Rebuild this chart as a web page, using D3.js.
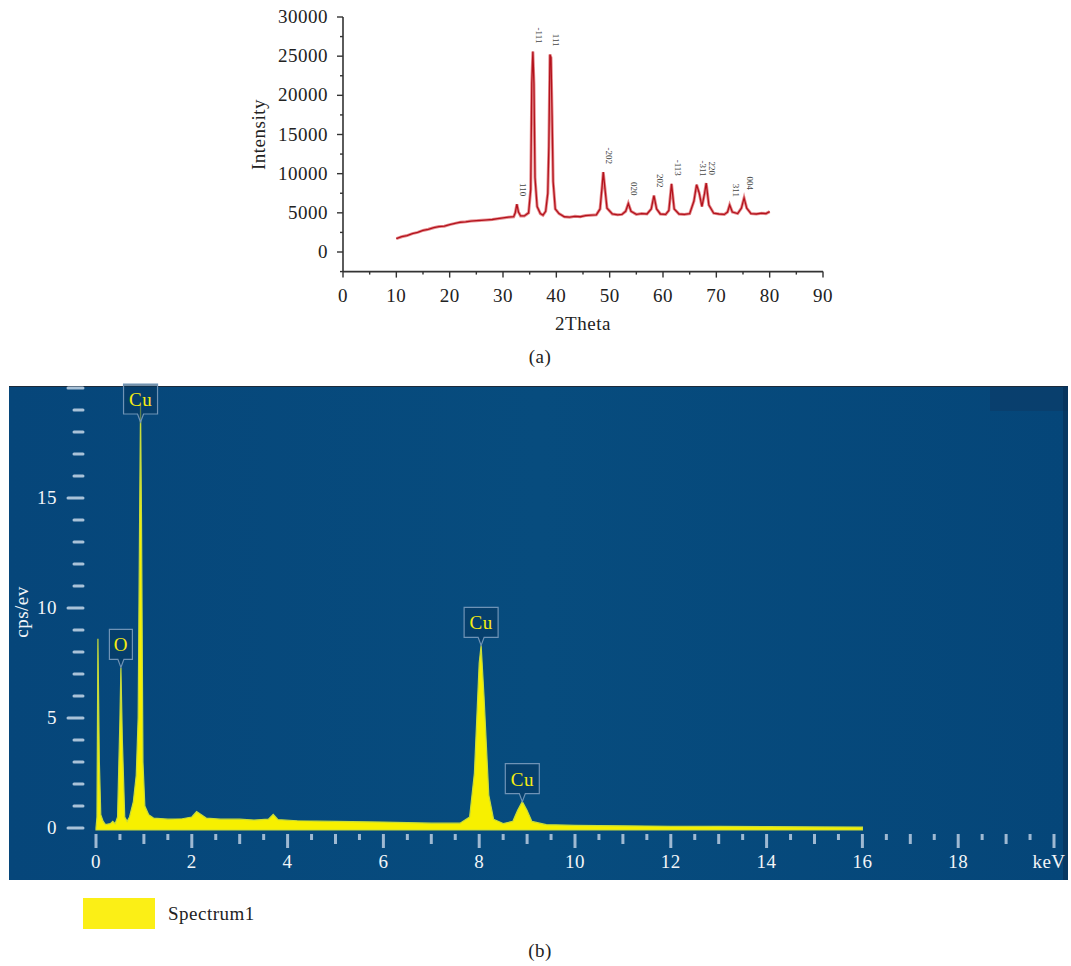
<!DOCTYPE html>
<html>
<head>
<meta charset="utf-8">
<script src="https://cdn.jsdelivr.net/npm/d3@7"></script>
<style>
  body { margin: 0; background: #fff; }
  text { font-family: "Liberation Serif", "DejaVu Serif", serif; letter-spacing: 0.5px; }
</style>
</head>
<body>
<div id="chart"></div>
<script>
// ---- (a) XRD pattern ----
const xrdTheta = [10, 11, 12, 13, 14, 15, 16, 17, 18, 19, 20, 21, 22, 23, 24, 25, 26, 27, 28, 29, 30, 31, 32,
  32.3, 32.6, 32.9, 33.3, 34, 34.8, 35.2, 35.4, 35.6, 35.8, 36.0, 36.4, 37, 37.5, 38.0, 38.4, 38.6, 38.8, 39.0,
  39.2, 39.4, 39.8, 40.5, 41.5, 42.5, 43.5, 44.5, 45.5, 46.5, 47.5, 48.2, 48.6, 48.8, 49.1, 49.5, 50.5, 51.5,
  52.3, 53, 53.5, 54, 55, 56, 57, 57.8, 58.3, 58.8, 59.5, 60.5, 61.1, 61.6, 62.1, 63, 64, 65, 65.8, 66.3, 66.8,
  67.3, 67.8, 68.1, 68.6, 69.5, 70.5, 71.5, 72.1, 72.5, 73, 74, 74.7, 75.2, 75.7, 76.5, 77.5, 78.5, 79.3, 80];
const xrdIntensity = [1700, 1950, 2100, 2350, 2500, 2750, 2900, 3100, 3250, 3300, 3500, 3650, 3800, 3850, 3950, 4000, 4050, 4100, 4150, 4250, 4350, 4450, 4500,
  5000, 6100, 5100, 4600, 4600, 5000, 8000, 21500, 25600, 21500, 9500, 5800, 4900, 4700, 5200, 7500, 13500, 25200, 24800,
  17500, 9000, 5500, 4900, 4500, 4450, 4550, 4500, 4650, 4700, 4750, 5500, 8500, 10200, 8200, 5600, 4850, 4750,
  4800, 5200, 6200, 5200, 4800, 4900, 4850, 5500, 7200, 5500, 4850, 4800, 5300, 8700, 5500, 4850, 4800, 4900, 6500, 8600, 7500,
  5800, 7500, 8800, 6000, 4950, 4850, 4800, 5100, 6000, 5100, 4900, 5600, 6900, 5600, 4900, 4850, 4950, 4900, 5150];
const xrdPeakTheta = [32.6, 35.6, 38.8, 48.8, 53.5, 58.3, 61.6, 66.3, 68.1, 72.5, 75.2];
const xrdPeakHeight = [6100, 25600, 25200, 10200, 6200, 7200, 8700, 8600, 8800, 6000, 6900];
const xrdPeakLabel = ["110", "-111", "111", "-202", "020", "202", "-113", "-311", "220", "311", "004"];
const xrdXTicks = [0, 10, 20, 30, 40, 50, 60, 70, 80, 90];
const xrdYTicks = [0, 5000, 10000, 15000, 20000, 25000, 30000];

// ---- (b) EDS spectrum ----
const edsEnergy = [0, 0.02, 0.04, 0.07, 0.1, 0.15, 0.2, 0.3, 0.35, 0.4, 0.45, 0.5, 0.52, 0.55, 0.6, 0.65, 0.7, 0.78,
  0.84, 0.88, 0.91, 0.93, 0.95, 0.98, 1.02, 1.1, 1.2, 1.5, 1.8, 2.0, 2.1, 2.2, 2.3, 2.6, 3.0, 3.3, 3.6, 3.7, 3.8,
  4.2, 5, 6, 7, 7.6, 7.8, 7.9, 8.0, 8.04, 8.1, 8.2, 8.3, 8.5, 8.7, 8.8, 8.9, 9.0, 9.1, 9.4, 10, 11, 12, 13, 14, 15, 16];
const edsCps = [0, 0.5, 8.6, 3, 0.6, 0.3, 0.15, 0.2, 0.3, 0.2, 0.5, 5, 7.3, 4, 0.5, 0.3, 0.5, 1.2,
  2.4, 5, 14, 19.2, 14, 3, 1, 0.6, 0.45, 0.4, 0.42, 0.5, 0.75, 0.6, 0.45, 0.4, 0.4, 0.36, 0.4, 0.62, 0.38,
  0.33, 0.3, 0.27, 0.22, 0.22, 0.5, 2.5, 7.5, 8.3, 6, 1.5, 0.4, 0.2, 0.3, 0.8, 1.2, 0.8, 0.3, 0.15, 0.12, 0.1, 0.08, 0.07, 0.06, 0.05, 0.04];
const edsLabelEnergy = [0.93, 0.52, 8.04, 8.9];
const edsLabelCps = [19.2, 7.3, 8.3, 1.2];
const edsLabelText = ["Cu", "O", "Cu", "Cu"];
const edsXTicks = [0, 2, 4, 6, 8, 10, 12, 14, 16, 18];
const edsYTicks = [0, 5, 10, 15];

const width = 1071, height = 966;
const fs = 19;

const svg = d3.select("#chart").append("svg")
  .attr("width", width)
  .attr("height", height);

svg.append("rect").attr("width", width).attr("height", height).attr("fill", "#fff");

// ================= (a) =================
const xA = d3.scaleLinear().domain([0, 90]).range([343, 823]);
const yA = d3.scaleLinear().domain([0, 30000]).range([252, 17]);
const axisBottomY = yA(-2500);

const gA = svg.append("g");

// x axis
gA.append("line")
  .attr("x1", xA(0)).attr("x2", xA(90))
  .attr("y1", axisBottomY).attr("y2", axisBottomY)
  .attr("stroke", "#333").attr("stroke-width", 1.6);
gA.selectAll(".xminor")
  .data(d3.range(0, 91, 5))
  .enter().append("line")
  .attr("x1", d => xA(d)).attr("x2", d => xA(d))
  .attr("y1", axisBottomY).attr("y2", d => axisBottomY + (d % 10 === 0 ? 6 : 3))
  .attr("stroke", "#333").attr("stroke-width", 1.4);
gA.selectAll(".xlab")
  .data(xrdXTicks)
  .enter().append("text")
  .attr("x", d => xA(d)).attr("y", axisBottomY + 30)
  .attr("text-anchor", "middle")
  .attr("font-size", fs).attr("fill", "#222")
  .text(d => d);

// y axis
gA.append("line")
  .attr("x1", xA(0)).attr("x2", xA(0))
  .attr("y1", yA(30000)).attr("y2", axisBottomY)
  .attr("stroke", "#333").attr("stroke-width", 1.6);
gA.selectAll(".yminor")
  .data(d3.range(-2500, 30001, 2500))
  .enter().append("line")
  .attr("x1", d => xA(0) - (d % 5000 === 0 ? 6 : 3)).attr("x2", xA(0))
  .attr("y1", d => yA(d)).attr("y2", d => yA(d))
  .attr("stroke", "#333").attr("stroke-width", 1.4);
gA.selectAll(".ylab")
  .data(xrdYTicks)
  .enter().append("text")
  .attr("x", xA(0) - 15).attr("y", d => yA(d) + 6)
  .attr("text-anchor", "end")
  .attr("font-size", fs).attr("fill", "#222")
  .text(d => d);

gA.append("text")
  .attr("transform", "translate(265," + yA(15000) + ") rotate(-90)")
  .attr("text-anchor", "middle")
  .attr("font-size", fs).attr("fill", "#222")
  .text("Intensity");
gA.append("text")
  .attr("x", xA(45)).attr("y", 330)
  .attr("text-anchor", "middle")
  .attr("font-size", fs).attr("fill", "#222")
  .text("2Theta");

const lineA = d3.line()
  .x(d => xA(d[0]))
  .y(d => yA(d[1]));

gA.append("path")
  .datum(d3.zip(xrdTheta, xrdIntensity))
  .attr("fill", "none")
  .attr("stroke", "#e58a8d")
  .attr("stroke-width", 3)
  .attr("d", lineA);
gA.append("path")
  .datum(d3.zip(xrdTheta, xrdIntensity))
  .attr("fill", "none")
  .attr("stroke", "#b3121c")
  .attr("stroke-width", 1.3)
  .attr("d", lineA);

gA.selectAll(".peaklab")
  .data(d3.zip(xrdPeakTheta, xrdPeakHeight, xrdPeakLabel))
  .enter().append("text")
  .attr("transform", d => "translate(" + (xA(d[0]) + 3) + "," + (yA(d[1]) - 8) + ") rotate(90)")
  .attr("text-anchor", "end")
  .attr("font-size", 9).attr("fill", "#444")
  .style("letter-spacing", "0px")
  .text(d => d[2]);

svg.append("text")
  .attr("x", 540).attr("y", 363)
  .attr("text-anchor", "middle")
  .attr("font-size", fs).attr("fill", "#222")
  .text("(a)");

// ================= (b) =================
const panel = { x0: 9, y0: 386, x1: 1068, y1: 880 };
const xB = d3.scaleLinear().domain([0, 20]).range([96, 1054]);
const yB = d3.scaleLinear().domain([0, 20]).range([828, 388]);

const gB = svg.append("g");

const grad = svg.append("defs").append("linearGradient")
  .attr("id", "bg").attr("x1", "0").attr("y1", "0").attr("x2", "1").attr("y2", "0");
grad.append("stop").attr("offset", "0").attr("stop-color", "#06467a");
grad.append("stop").attr("offset", "0.5").attr("stop-color", "#074c7e");
grad.append("stop").attr("offset", "1").attr("stop-color", "#054679");

gB.append("rect")
  .attr("x", panel.x0).attr("y", panel.y0)
  .attr("width", panel.x1 - panel.x0).attr("height", panel.y1 - panel.y0)
  .attr("fill", "url(#bg)");
gB.append("line")
  .attr("x1", panel.x0).attr("x2", panel.x1)
  .attr("y1", panel.y0 + 0.5).attr("y2", panel.y0 + 0.5)
  .attr("stroke", "#1c2a3a").attr("stroke-width", 1.2);
gB.append("rect")
  .attr("x", 990).attr("y", panel.y0 + 1)
  .attr("width", panel.x1 - 990).attr("height", 24)
  .attr("fill", "#0b3a66").attr("opacity", 0.6);
gB.append("rect")
  .attr("x", panel.x1 - 5).attr("y", panel.y0)
  .attr("width", 5).attr("height", panel.y1 - panel.y0)
  .attr("fill", "#083258").attr("opacity", 0.7);

// y ticks
gB.selectAll(".ytick")
  .data(d3.range(0, 21, 1))
  .enter().append("line")
  .attr("x1", d => (d % 5 === 0 ? 68 : 74)).attr("x2", 83)
  .attr("y1", d => yB(d)).attr("y2", d => yB(d))
  .attr("stroke", "#a9c2d8").attr("stroke-width", 3).attr("stroke-linecap", "round");
gB.selectAll(".ylab")
  .data(edsYTicks)
  .enter().append("text")
  .attr("x", 57).attr("y", d => yB(d) + 6)
  .attr("text-anchor", "end")
  .attr("font-size", fs).attr("fill", "#f2f5f8")
  .text(d => d);
gB.append("text")
  .attr("transform", "translate(28,612) rotate(-90)")
  .attr("text-anchor", "middle")
  .attr("font-size", fs).attr("fill", "#f2f5f8")
  .text("cps/ev");

// x ticks
gB.selectAll(".xtick")
  .data(d3.range(0, 20.01, 0.5))
  .enter().append("line")
  .attr("x1", d => xB(d)).attr("x2", d => xB(d))
  .attr("y1", 834)
  .attr("y2", d => 834 + (d % 2 === 0 ? 14 : (d % 1 === 0 ? 10 : 6)))
  .attr("stroke", "#9fb9d2").attr("stroke-width", 3);
gB.selectAll(".xlab")
  .data(edsXTicks)
  .enter().append("text")
  .attr("x", d => xB(d)).attr("y", 868)
  .attr("text-anchor", "middle")
  .attr("font-size", fs).attr("fill", "#f2f5f8")
  .text(d => d);
gB.append("text")
  .attr("x", 1049).attr("y", 868)
  .attr("text-anchor", "middle")
  .attr("font-size", fs).attr("fill", "#f2f5f8")
  .text("keV");

// spectrum
const edsData = d3.zip(edsEnergy, edsCps);
const areaB = d3.area()
  .x(d => xB(d[0]))
  .y0(yB(0) + 2)
  .y1(d => yB(d[1]));
gB.append("path")
  .datum(edsData)
  .attr("fill", "#f7f000")
  .attr("stroke", "#c8dc3a")
  .attr("stroke-width", 1.2)
  .attr("d", areaB);

// element callouts
const callouts = gB.selectAll(".callout")
  .data(d3.zip(edsLabelEnergy, edsLabelCps, edsLabelText))
  .enter().append("g");

callouts.append("path")
  .attr("d", d => {
    const cx = xB(d[0]);
    const tip = Math.max(yB(d[1]), panel.y0 + 36);
    const w = d[2] === "O" ? 23 : 34;
    const top = tip - 38, bot = tip - 8;
    return "M" + (cx - w / 2) + "," + top + "H" + (cx + w / 2) + "V" + bot +
      "L" + (cx + 3) + "," + bot + "L" + cx + "," + tip + "L" + (cx - 3) + "," + bot +
      "H" + (cx - w / 2) + "Z";
  })
  .attr("fill", "#06365e").attr("fill-opacity", 0.55)
  .attr("stroke", "#6f93b6").attr("stroke-width", 1.2);

callouts.append("text")
  .attr("x", d => xB(d[0]))
  .attr("y", d => Math.max(yB(d[1]), panel.y0 + 36) - 16)
  .attr("text-anchor", "middle")
  .attr("font-size", fs).attr("fill", "#f6ec12")
  .text(d => d[2]);

// legend
svg.append("rect")
  .attr("x", 83).attr("y", 898)
  .attr("width", 72).attr("height", 31)
  .attr("fill", "#fbef16");
svg.append("text")
  .attr("x", 168).attr("y", 920)
  .attr("font-size", fs).attr("fill", "#222")
  .text("Spectrum1");
svg.append("text")
  .attr("x", 540).attr("y", 957)
  .attr("text-anchor", "middle")
  .attr("font-size", fs).attr("fill", "#222")
  .text("(b)");
</script>
</body>
</html>
